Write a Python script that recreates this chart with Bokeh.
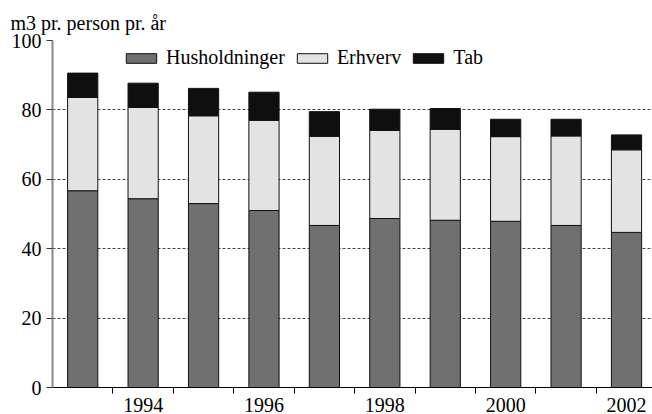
from bokeh.plotting import figure
from bokeh.models import FixedTicker, Range1d, Legend, LegendItem, ColumnDataSource
from bokeh.embed import file_html
from bokeh.resources import INLINE

years = [1993, 1994, 1995, 1996, 1997, 1998, 1999, 2000, 2001, 2002]
husholdninger = [56.7, 54.4, 53.0, 51.0, 46.7, 48.7, 48.2, 47.9, 46.7, 44.7]
erhverv = [26.9, 26.3, 25.3, 26.0, 25.7, 25.4, 26.2, 24.4, 25.8, 23.8]
tab = [7.0, 7.0, 7.9, 8.1, 7.1, 6.1, 6.0, 5.0, 4.8, 4.3]
series = ["Husholdninger", "Erhverv", "Tab"]
colors = ["#707070", "#e3e3e3", "#0f0f0f"]
x_tick_years = [1994, 1996, 1998, 2000, 2002]
x_boundaries = [1993.5, 1994.5, 1995.5, 1996.5, 1997.5, 1998.5, 1999.5, 2000.5, 2001.5]
y_ticks = [0, 20, 40, 60, 80, 100]

FONT = "Liberation Serif"

source = ColumnDataSource(dict(year=years, Husholdninger=husholdninger,
                               Erhverv=erhverv, Tab=tab))

p = figure(width=652, height=414, output_backend="svg", toolbar_location=None,
           x_range=Range1d(1992.5, 2002.43), y_range=Range1d(0, 100),
           min_border_left=52, min_border_right=0, min_border_top=40,
           min_border_bottom=25)
p.outline_line_color = None
p.background_fill_color = "white"

renderers = p.vbar_stack(series, x="year", width=0.5, source=source,
                         fill_color=colors, line_color="#111111", line_width=1)

# title
p.title.text = "m3 pr. person pr. år"
p.title.text_font = FONT
p.title.text_font_size = "20px"
p.title.text_font_style = "normal"
p.title.text_color = "black"
p.title.align = "left"
p.title.offset = -42
p.title.standoff = 14

# x axis
xa = p.xaxis[0]
xa.ticker = FixedTicker(ticks=x_tick_years, minor_ticks=x_boundaries)
xa.major_tick_line_color = None
xa.major_tick_out = 0
xa.major_tick_in = 0
xa.minor_tick_line_color = "black"
xa.minor_tick_out = 6
xa.minor_tick_in = 0
xa.major_label_standoff = 4
xa.major_label_text_font = FONT
xa.major_label_text_font_size = "20px"
xa.major_label_text_color = "black"
xa.axis_line_color = "black"
xa.axis_line_width = 1

# y axis
ya = p.yaxis[0]
ya.ticker = FixedTicker(ticks=y_ticks)
ya.major_tick_out = 6
ya.major_tick_in = 0
ya.major_tick_line_color = "#333333"
ya.minor_tick_line_color = None
ya.major_label_standoff = 5
ya.major_label_text_font = FONT
ya.major_label_text_font_size = "20px"
ya.major_label_text_color = "black"
ya.axis_line_color = "#888888"
ya.axis_line_width = 2

p.xgrid.grid_line_color = None
p.ygrid.grid_line_color = "#444444"
p.ygrid.grid_line_dash = "3 2"
p.ygrid.grid_line_width = 1

legend = Legend(items=[LegendItem(label=s, renderers=[r]) for s, r in zip(series, renderers)],
                orientation="horizontal", location=(70, 318),
                glyph_width=38, glyph_height=12, label_standoff=6, spacing=8,
                padding=0, margin=0, border_line_color=None,
                background_fill_alpha=0,
                label_text_font=FONT, label_text_font_size="20px",
                label_text_color="black")
p.add_layout(legend, "center")

open("out.html", "w").write(file_html(p, INLINE))
